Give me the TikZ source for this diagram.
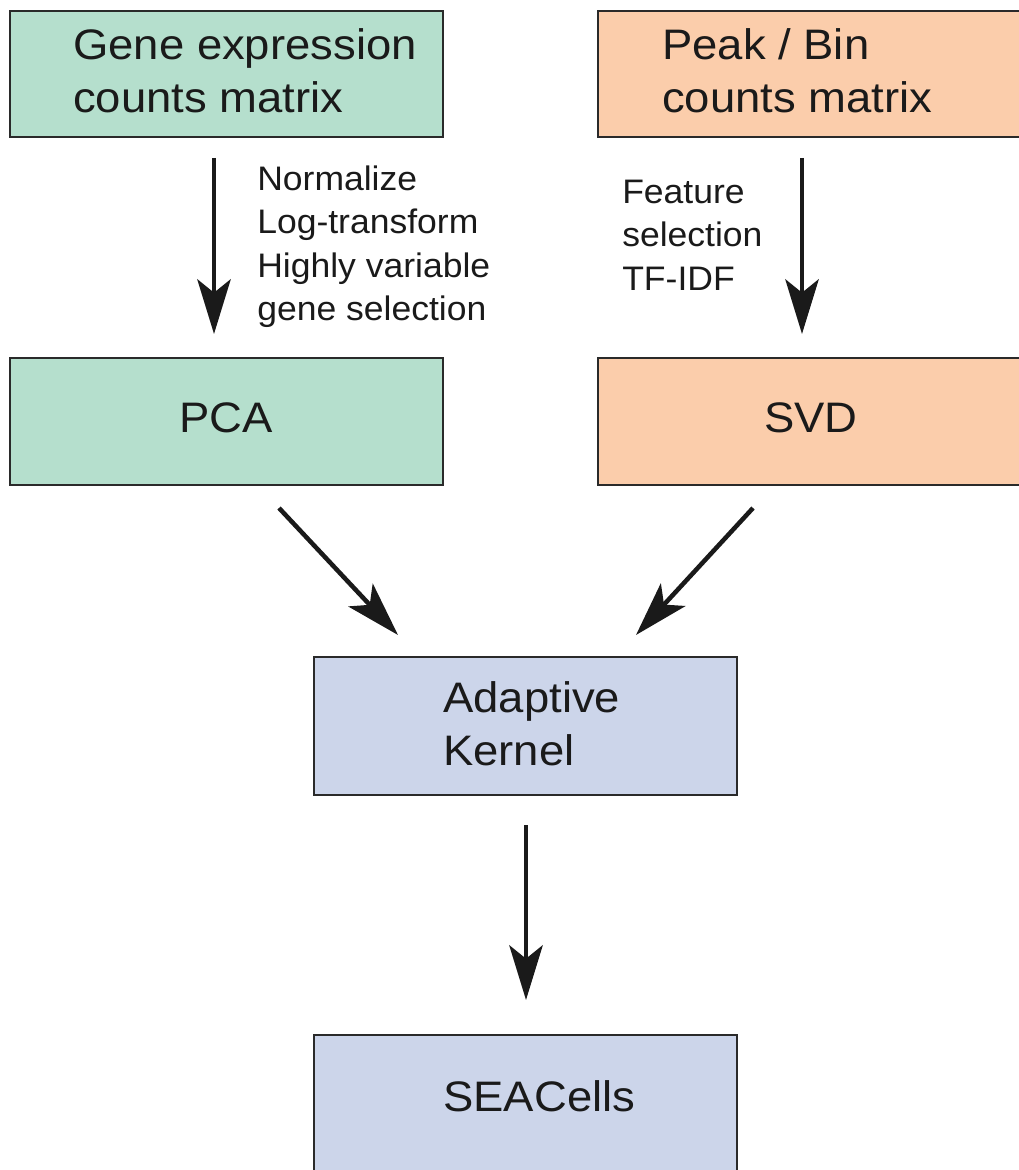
\documentclass[tikz,border=0pt]{standalone}
\usepackage{fontspec}
\setmainfont{Liberation Sans}
% slightly widened faces for the box titles and the step notes
\newfontfamily\titlefont[FakeStretch=1.065]{Liberation Sans}
\newfontfamily\notefont[FakeStretch=1.045]{Liberation Sans}
\usetikzlibrary{arrows.meta}

\definecolor{mint}{HTML}{B5DFCD}
\definecolor{peach}{HTML}{FBCDAB}
\definecolor{lav}{HTML}{CCD5EA}
\definecolor{edge}{HTML}{2A2A2A}
\definecolor{ink}{HTML}{1A1A1A}

\tikzset{
  box/.style={draw=edge, line width=1.5pt, rectangle, inner sep=0pt},
  % multi-line texts are placed by the baseline of their last line
  boxtext/.style={inner sep=0pt, anchor=base west, align=left, text=ink,
    font=\titlefont\fontsize{32pt}{39.75pt}\selectfont},
  steptext/.style={inner sep=0pt, anchor=base west, align=left, text=ink,
    font=\notefont\fontsize{25.5pt}{32.6pt}\selectfont},
  flow/.style={draw=ink, line width=3.4pt,
    -{Stealth[length=41pt, width=25pt, inset=10pt]}}
}

\begin{document}
\begin{tikzpicture}[x=0.75pt, y=-0.75pt]
  \useasboundingbox (0,0) rectangle (1019,1170);

  % boxes
  \node[box, fill=mint,  minimum width=324.75pt, minimum height=94.5pt]  (gene) at (226.5,74) {};
  \node[box, fill=peach, minimum width=318pt,    minimum height=94.5pt]  (peak) at (810,74) {};
  \node[box, fill=mint,  minimum width=324.75pt, minimum height=95.25pt] (pca)  at (226.5,421.5) {};
  \node[box, fill=peach, minimum width=318pt,    minimum height=95.25pt] (svd)  at (810,421.5) {};
  \node[box, fill=lav,   minimum width=317.25pt, minimum height=103.5pt] (kern) at (525.5,726) {};
  \node[box, fill=lav,   minimum width=317.25pt, minimum height=108.75pt] (sea) at (525.5,1107.5) {};

  % box texts
  \node[boxtext] (genet) at (73,113)  {Gene expression\\counts matrix};
  \node[boxtext] (peakt) at (662,113) {Peak / Bin\\counts matrix};
  \node[boxtext] (pcat)  at (179,432) {PCA};
  \node[boxtext] (svdt)  at (764,432) {SVD};
  \node[boxtext] (kernt) at (443,765) {Adaptive\\Kernel};
  \node[boxtext] (seat)  at (443,1111) {SEACells};

  % step labels
  \node[steptext] (stepL) at (257,320.5) {Normalize\\Log-transform\\Highly variable\\gene selection};
  \node[steptext] (stepR) at (622,290) {Feature\\selection\\TF-IDF};

  % arrow columns and diagonal ends
  \coordinate (colL) at (214,0);
  \coordinate (colR) at (802,0);
  \coordinate (colM) at (526,0);
  \coordinate (dLs) at (279,508);
  \coordinate (dLe) at (398,635);
  \coordinate (dRs) at (753,508);
  \coordinate (dRe) at (636,635);

  % connectors
  \draw[flow, shorten <=15pt, shorten >=17.25pt] (gene.south -| colL) -- (pca.north -| colL);
  \draw[flow, shorten <=15pt, shorten >=17.25pt] (peak.south -| colR) -- (svd.north -| colR);
  \draw[flow] (dLs) -- (dLe);
  \draw[flow] (dRs) -- (dRe);
  \draw[flow, shorten <=21.75pt, shorten >=25.5pt] (kern.south -| colM) -- (sea.north -| colM);
\end{tikzpicture}
\end{document}
